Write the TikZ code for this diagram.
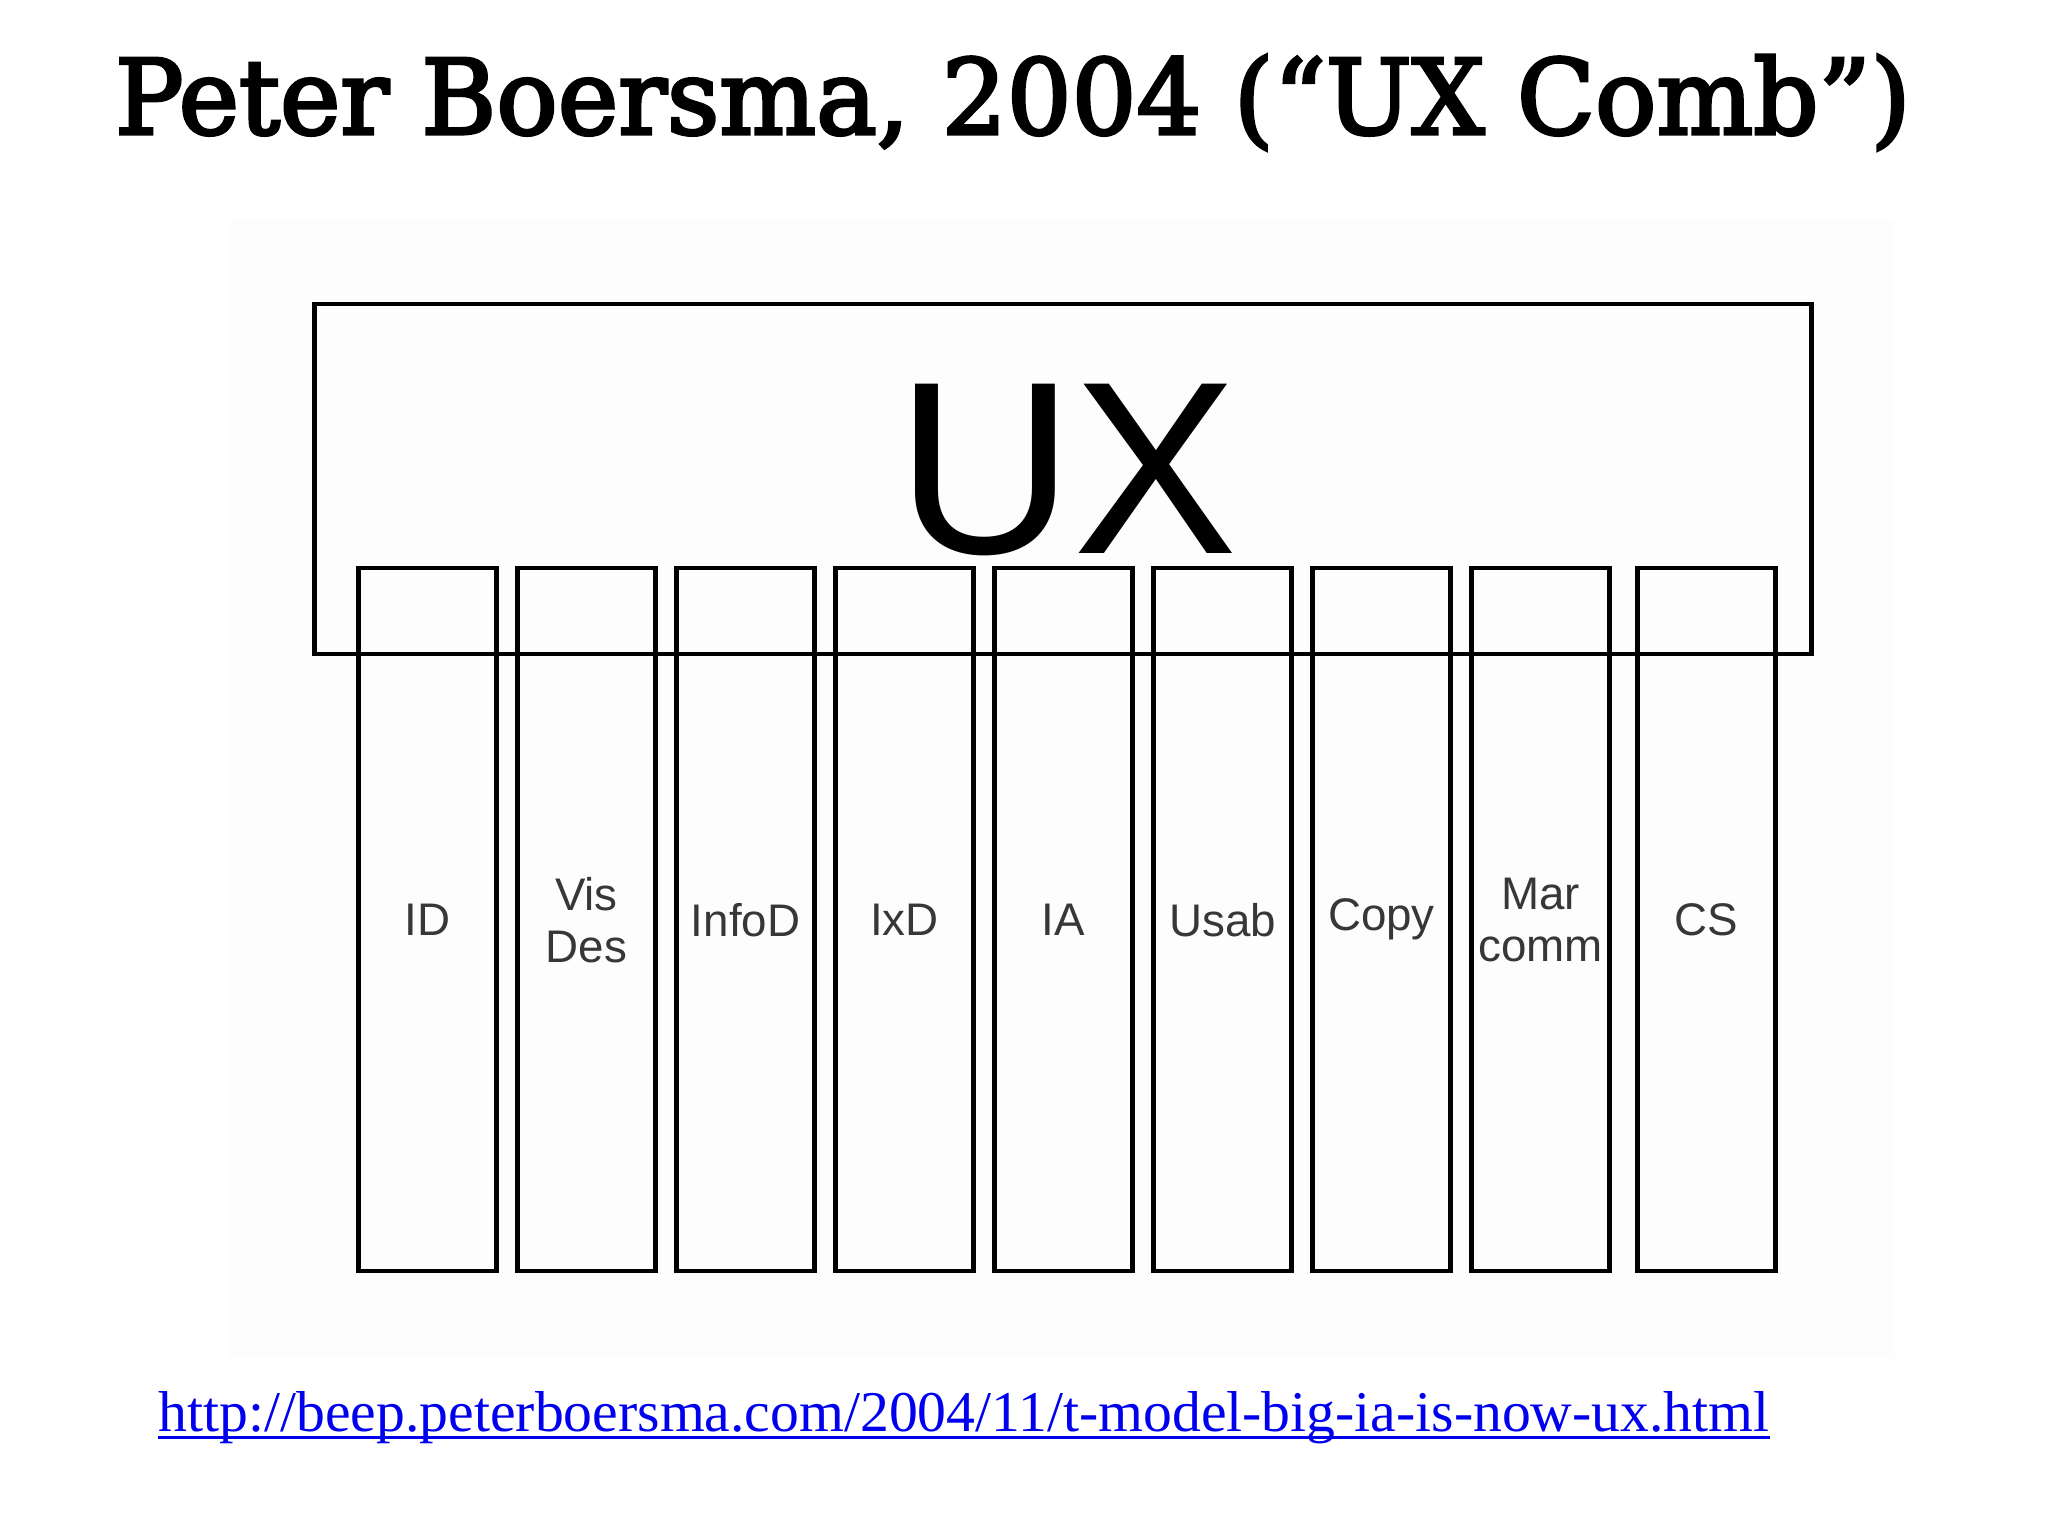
\documentclass[tikz,border=0pt]{standalone}
\usepackage{fontspec}
\setmainfont{Liberation Sans}
\newfontfamily\titlefont[FakeStretch=1.09,FakeBold=3]{DejaVu Serif Condensed}
\newfontfamily\urlfont{Liberation Serif}
\definecolor{linkblue}{RGB}{0,0,238}
\definecolor{labelgray}{RGB}{55,55,55}
\begin{document}
\begin{tikzpicture}[x=0.01cm,y=-0.01cm,
  tooth/.style={draw=black,line width=1.2pt,minimum width=1.38cm,minimum height=7.025cm,
    inner sep=0pt,align=center,text=labelgray,font=\fontsize{13}{14.8}\selectfont},
  uxbox/.style={draw=black,line width=1.2pt,minimum width=14.96cm,minimum height=3.5cm,inner sep=0pt},
  pic/.style={fill=black!0.8,draw=none}]
\useasboundingbox (0,0) rectangle (2048,1536);
\fill[white] (0,0) rectangle (2048,1536);
\path[pic] (229,219) rectangle (1894,1358);
% title
\node[anchor=base,inner sep=0pt,font=\titlefont\fontsize{29.6}{32}\selectfont] (title) at (1013,134)
  {Peter Boersma, 2004 (“UX Comb”)};
% UX box
\node[uxbox] (ux) at (1063,479) {};
\node[inner sep=0pt,font=\fontsize{70}{80}\selectfont,anchor=base] (uxlabel) at (1067,553) {UX};
% teeth
\node[tooth] (t1) at (427.5,919.75) {ID};
\node[tooth] (t2) at (586.5,919.75) {Vis\\Des};
\node[tooth] (t3) at (745.5,919.75) {InfoD};
\node[tooth] (t4) at (904.5,919.75) {IxD};
\node[tooth] (t5) at (1063.5,919.75) {IA};
\node[tooth] (t6) at (1222.5,919.75) {Usab};
\node[tooth] (t7) at (1381.5,919.75) {Copy};
\node[tooth] (t8) at (1540.5,919.75) {Mar\\comm};
\node[tooth] (t9) at (1706.5,919.75) {CS};
% url
\node[anchor=base west,inner sep=0pt,text=linkblue,font=\urlfont\fontsize{16.4}{18}\selectfont] (url) at (158,1431)
  {http://beep.peterboersma.com/2004/11/t-model-big-ia-is-now-ux.html};
\draw[linkblue,line width=0.85pt] ([yshift=-0.065cm]url.base west) -- ([yshift=-0.065cm]url.base east);
\end{tikzpicture}
\end{document}
